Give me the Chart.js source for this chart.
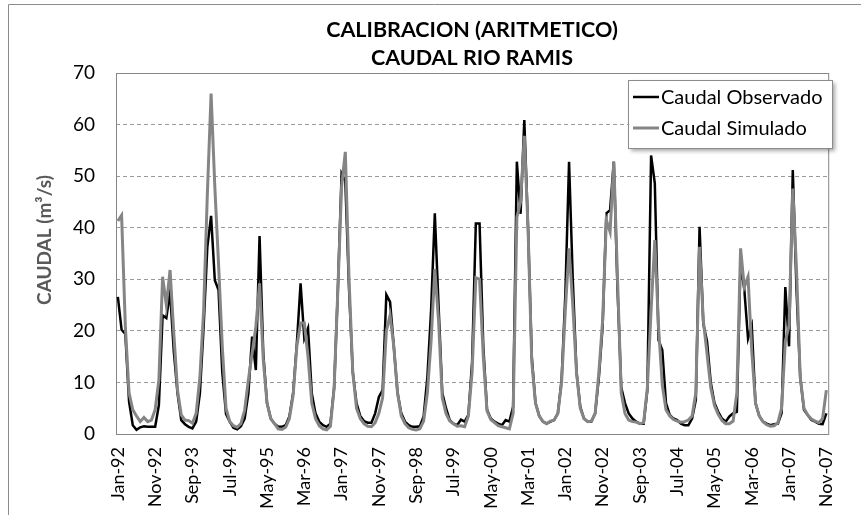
<!DOCTYPE html>
<html>
<head>
<meta charset="utf-8">
<title>Calibracion caudal Rio Ramis</title>
<script src="https://cdn.jsdelivr.net/npm/chart.js@4.4.1/dist/chart.umd.min.js"></script>
<style>
  html, body { margin: 0; padding: 0; background: #fff; }
  #wrap { position: relative; width: 861px; height: 515px; }
</style>
</head>
<body>
<div id="wrap"><canvas id="chart" width="861" height="515"></canvas></div>
<script>
// ---------------------------------------------------------------
// Datos (m3/s), mensual Ene-1992 .. Nov-2007
// ---------------------------------------------------------------
const monthNames = ["Jan","Feb","Mar","Apr","May","Jun","Jul","Aug","Sep","Oct","Nov","Dec"];
const years = ["92","93","94","95","96","97","98","99","00","01","02","03","04","05","06","07"];
const lastMonth = "Nov-07";

const tickLabels = ["Jan-92","Nov-92","Sep-93","Jul-94","May-95","Mar-96","Jan-97","Nov-97","Sep-98","Jul-99",
                    "May-00","Mar-01","Jan-02","Nov-02","Sep-03","Jul-04","May-05","Mar-06","Jan-07","Nov-07"];

const caudalObservado = [
  26.6, 20.2, 19.4, 6.3, 1.7, 0.8, 1.3, 1.5, 1.4, 1.4, 1.4, 5.6,
  23, 22.5, 27.6, 16, 7.9, 2.7, 1.9, 1.4, 1.1, 2.4, 7.9, 20.8,
  36.3, 42.3, 29.8, 27.9, 12, 3.9, 2.4, 1.2, 0.9, 1.5, 3, 7.9,
  18.9, 12.4, 38.4, 15.6, 6, 3, 2, 1.4, 1.4, 1.7, 3.4, 7.9,
  17.6, 29.2, 18.5, 20.5, 7.9, 4, 2.4, 1.7, 1.4, 2, 9, 28,
  50.5, 49, 28, 12, 6, 3.5, 2.5, 2.2, 2.2, 4, 7.2, 8.5,
  27, 25.6, 17, 8, 4, 2.4, 1.7, 1.4, 1.4, 1.5, 3.4, 11,
  24, 42.8, 25, 8, 5, 2.7, 2, 1.7, 2.8, 2.4, 3.7, 14,
  40.8, 40.8, 17, 4.7, 3, 2.4, 2, 1.7, 2.7, 2.4, 5.3, 52.8,
  42.7, 60.9, 40, 15, 6, 3.5, 2.4, 2, 2.4, 2.7, 4, 10.5,
  27, 52.8, 30, 12, 5.3, 3, 2.4, 2.4, 4, 11, 20.8, 42.8,
  43.4, 52.8, 28, 9, 6, 4, 3, 2.4, 2, 2, 8.5, 54,
  48.6, 18.2, 16.3, 6, 3.7, 3, 2.7, 2, 1.7, 1.7, 3, 6.6,
  40.2, 21.4, 18, 10, 6, 4.3, 3, 2.4, 3.4, 4, 4.3, 33.5,
  28, 18.5, 21, 6, 3.5, 2.4, 2, 1.7, 1.9, 2, 4, 28.5,
  17, 51.2, 28, 11, 4.7, 3.7, 2.7, 2.4, 2, 1.9, 4
];

const caudalSimulado = [
  41.3, 42.4, 21, 8, 4.7, 3.5, 2.4, 3.2, 2.4, 2.7, 4.7, 10.5,
  30.5, 25, 31.8, 19.5, 8.5, 3.7, 2.7, 2.6, 2.1, 4, 11, 24,
  46.6, 66, 48, 33, 17, 5, 2.4, 1.6, 1.3, 2, 4.6, 10.5,
  15.6, 20.8, 29.2, 14.3, 6, 3, 2, 1, 0.9, 1.3, 3, 7.5,
  17, 21.5, 21.5, 15, 6, 3, 1.6, 1, 0.8, 1.5, 9, 28,
  48, 54.7, 30, 12, 5, 3, 2, 1.5, 1.4, 2.2, 4, 7,
  20, 23, 17, 8, 3.5, 2, 1.2, 0.9, 0.8, 1, 2.5, 8,
  18, 32, 22, 7, 4, 2.5, 2, 1.5, 1.6, 1.4, 3.5, 12,
  30.3, 30, 15, 4.5, 2.8, 2.2, 1.6, 1.4, 1.2, 1, 4, 42,
  45, 57.8, 40, 14, 6, 3.5, 2.4, 2, 2.5, 2.7, 4, 10,
  24, 36, 25, 12, 5, 3, 2.4, 2.5, 4, 12, 22, 41.5,
  39.2, 52.8, 30, 8, 4, 2.7, 2.4, 2.3, 2, 2.2, 9, 24,
  37.6, 20.8, 9.5, 4.7, 3.5, 2.8, 2.5, 2.3, 2.4, 2.7, 3.5, 8,
  36.3, 22, 15.6, 9, 5.5, 3.8, 2.6, 2, 2, 2.5, 8, 36,
  28.5, 30.5, 16, 6, 3.5, 2.4, 1.8, 1.5, 1.6, 2.2, 5, 18,
  21, 47.6, 32, 11, 5, 3.7, 2.9, 2.5, 2.2, 3, 8.5
];

const titleLines = ["CALIBRACION (ARITMETICO)", "CAUDAL RIO RAMIS"];
const yTitle = "CAUDAL (m\u00B3/s)";

// categorias mes-año
const categories = [];
outer:
for (const y of years) {
  for (const m of monthNames) {
    const lbl = m + "-" + y;
    categories.push(lbl);
    if (lbl === lastMonth) break outer;
  }
}

// ---------------------------------------------------------------
// Decoracion: marco, titulos, borde del area y leyenda
// ---------------------------------------------------------------
const decor = {
  id: "decor",
  beforeDraw(chart) {
    const ctx = chart.ctx;
    ctx.save();
    ctx.fillStyle = "#fff";
    ctx.fillRect(0, 0, chart.width, chart.height);

    // marco exterior (solo visible arriba/izquierda)
    ctx.strokeStyle = "#8c8c8c";
    ctx.lineWidth = 1;
    ctx.beginPath();
    ctx.moveTo(8.5, chart.height);
    ctx.lineTo(8.5, 4.5);
    ctx.lineTo(chart.width, 4.5);
    ctx.stroke();

    // titulo
    ctx.fillStyle = "#000";
    ctx.font = "bold 21.5px Lato";
    ctx.textAlign = "center";
    ctx.textBaseline = "middle";
    ctx.fillText(titleLines[0], 472, 30);
    ctx.fillText(titleLines[1], 472, 58);

    // titulo eje Y
    ctx.translate(45, 240);
    ctx.rotate(-Math.PI / 2);
    ctx.font = "bold 19px Lato";
    ctx.fillStyle = "#595959";
    ctx.fillText(yTitle, 0, 0);
    ctx.restore();
  },
  beforeDatasetsDraw(chart) {
    const { ctx, chartArea: a } = chart;
    ctx.save();
    ctx.strokeStyle = "#868686";
    ctx.lineWidth = 1;
    ctx.strokeRect(a.left + 0.5, a.top + 0.5, a.right - a.left, a.bottom - a.top);
    ctx.restore();
  },
  afterDatasetsDraw(chart) {
    const ctx = chart.ctx;
    const bx = 628, by = 80, bw = 204, bh = 68;
    ctx.save();
    ctx.shadowColor = "rgba(0,0,0,0.35)";
    ctx.shadowBlur = 4;
    ctx.shadowOffsetX = 3;
    ctx.shadowOffsetY = 3;
    ctx.fillStyle = "#fff";
    ctx.fillRect(bx, by, bw, bh);
    ctx.restore();

    ctx.save();
    ctx.strokeStyle = "#8c8c8c";
    ctx.lineWidth = 1;
    ctx.strokeRect(bx + 0.5, by + 0.5, bw, bh);

    const rows = [97, 128];
    chart.data.datasets.forEach((ds, i) => {
      const y = rows[i];
      ctx.strokeStyle = ds.borderColor;
      ctx.lineWidth = ds.borderWidth;
      ctx.beginPath();
      ctx.moveTo(633, y);
      ctx.lineTo(659, y);
      ctx.stroke();
      ctx.fillStyle = "#000";
      ctx.font = "20px Lato";
      ctx.textAlign = "left";
      ctx.textBaseline = "middle";
      ctx.fillText(ds.label, 661, y + 1);
    });
    ctx.restore();
  }
};

// ---------------------------------------------------------------
// Grafico
// ---------------------------------------------------------------
function draw() {
  Chart.defaults.font.family = "Lato";
  Chart.defaults.color = "#000";

  new Chart(document.getElementById("chart"), {
    type: "line",
    data: {
      labels: categories,
      datasets: [
        {
          label: "Caudal Observado",
          data: caudalObservado,
          borderColor: "#000000",
          borderWidth: 2.5,
          pointRadius: 0,
          tension: 0,
          order: 2
        },
        {
          label: "Caudal Simulado",
          data: caudalSimulado,
          borderColor: "#858585",
          borderWidth: 3,
          pointRadius: 0,
          tension: 0,
          order: 1
        }
      ]
    },
    options: {
      responsive: false,
      animation: false,
      layout: { padding: { top: 73, right: 22, bottom: 0, left: 0 } },
      plugins: {
        legend: { display: false },
        title: { display: false },
        tooltip: { enabled: false }
      },
      scales: {
        x: {
          offset: true,
          grid: { display: false, drawTicks: false },
          border: { display: false },
          ticks: {
            autoSkip: false,
            maxRotation: 90,
            minRotation: 90,
            padding: 13,
            font: { size: 18 },
            color: "#000",
            callback: (v, i) => tickLabels.includes(categories[i]) ? categories[i] : ""
          },
          afterFit: s => { s.height = 81; }
        },
        y: {
          min: 0,
          max: 70,
          ticks: { stepSize: 10, padding: 21, font: { size: 19 }, color: "#000" },
          grid: { color: "#9a9a9a", lineWidth: 1, drawTicks: false },
          border: { display: false, dash: [4, 3] },
          afterFit: s => { s.width = 116; }
        }
      }
    },
    plugins: [decor]
  });
}

if (document.fonts && document.fonts.load) {
  Promise.all([
    document.fonts.load("18px Lato"),
    document.fonts.load("bold 21px Lato")
  ]).then(draw, draw);
} else {
  draw();
}
</script>
</body>
</html>
